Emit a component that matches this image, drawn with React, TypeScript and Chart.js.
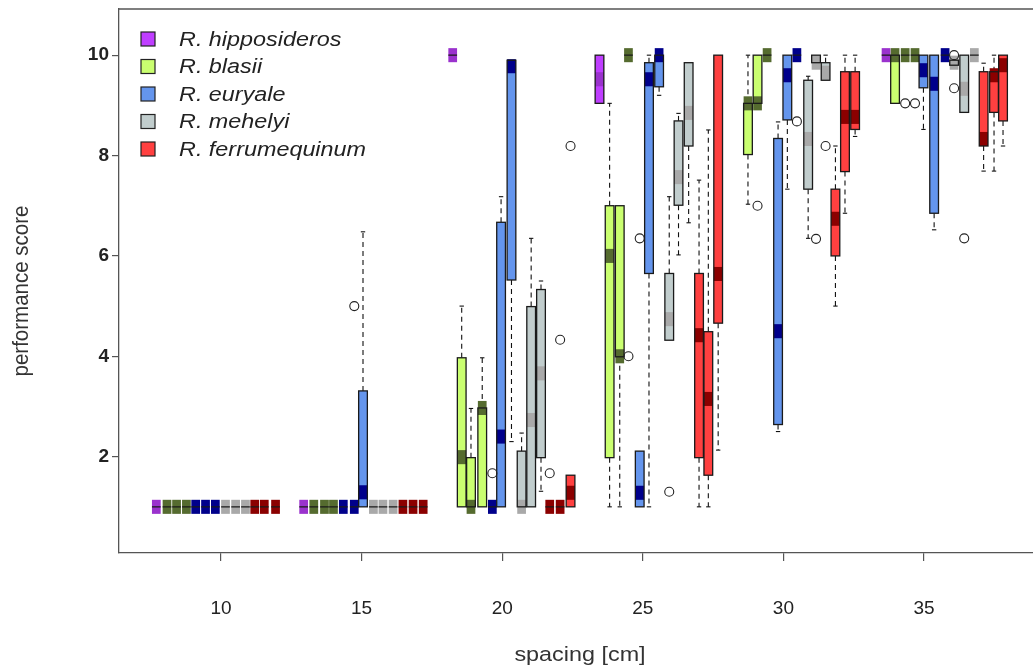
import React, { useEffect, useRef } from 'react';
import { Chart, registerables } from 'chart.js';

Chart.register(...registerables);

// Species shown in the legend, with box fill and median-band colours
const speciesNames = ['R. hipposideros', 'R. blasii', 'R. euryale', 'R. mehelyi', 'R. ferrumequinum'];
const boxFills = ['#bf3eff', '#caff70', '#6495ed', '#c1cdcd', '#ff4040'];
const medianFills = ['#9a32cd', '#556b2f', '#00008b', '#a9a9a9', '#8b0000'];

// Box statistics per species: [position, lower whisker, Q1, median, Q3, upper whisker]
const hipposiderosBoxes = [
  [7.70, 1, 1, 1, 1, 1],
  [12.94, 1, 1, 1, 1, 1],
  [18.24, 10, 10, 10, 10, 10],
  [23.46, 9.04, 9.04, 9.52, 10, 10],
  [33.65, 10, 10, 10, 10, 10],
];
const blasiiBoxes = [
  [8.08, 1, 1, 1, 1, 1], [8.42, 1, 1, 1, 1, 1], [8.77, 1, 1, 1, 1, 1],
  [13.30, 1, 1, 1, 1, 1], [13.68, 1, 1, 1, 1, 1], [14.00, 1, 1, 1, 1, 1],
  [18.56, 1, 1, 1.99, 3.97, 5.0], [18.89, 1, 1, 1.0, 1.98, 2.96], [19.29, 1, 1, 2.97, 2.97, 3.97],
  [23.82, 1, 1.98, 6.0, 7.0, 9.04], [24.18, 1, 3.99, 4.0, 7.0, 7.0], [24.49, 10, 10, 10, 10, 10],
  [28.74, 7.03, 8.02, 9.04, 9.04, 10], [29.08, 9.04, 9.04, 9.04, 10, 10], [29.42, 10, 10, 10, 10, 10],
  [33.97, 9.04, 9.04, 10, 10, 10], [34.33, 10, 10, 10, 10, 10], [34.68, 10, 10, 10, 10, 10],
];
const euryaleBoxes = [
  [9.10, 1, 1, 1, 1, 1], [9.45, 1, 1, 1, 1, 1], [9.80, 1, 1, 1, 1, 1],
  [14.35, 1, 1, 1, 1, 1], [14.74, 1, 1, 1, 1, 1], [15.05, 1, 1, 1.29, 3.31, 6.48],
  [19.65, 1, 1, 1, 1, 1], [19.96, 1, 1, 2.4, 6.67, 7.18], [20.33, 2.3, 5.52, 9.78, 9.9, 9.9],
  [24.89, 1, 1, 1.28, 2.11, 2.11], [25.22, 1, 5.65, 9.52, 9.85, 10], [25.58, 9.2, 9.37, 10, 10, 10],
  [29.81, 2.5, 2.64, 4.5, 8.34, 8.67], [30.14, 7.33, 8.71, 9.6, 10, 10], [30.48, 10, 10, 10, 10, 10],
  [34.98, 8.52, 9.35, 9.7, 10, 10], [35.36, 6.52, 6.85, 9.43, 10, 10], [35.75, 10, 10, 10, 10, 10],
];
const mehelyiBoxes = [
  [10.16, 1, 1, 1, 1, 1], [10.52, 1, 1, 1, 1, 1], [10.87, 1, 1, 1, 1, 1],
  [15.42, 1, 1, 1, 1, 1], [15.76, 1, 1, 1, 1, 1], [16.12, 1, 1, 1, 1, 1],
  [20.69, 1, 1, 1, 2.11, 2.47], [21.03, 1, 1, 2.73, 4.99, 6.35], [21.38, 1.31, 1.98, 3.66, 5.33, 5.5],
  [25.94, 4.32, 4.32, 4.74, 5.65, 7.18], [26.27, 6.02, 7.01, 7.57, 8.69, 8.84], [26.63, 6.66, 8.19, 8.85, 9.85, 9.85],
  [30.88, 6.35, 7.33, 8.33, 9.5, 9.58], [31.16, 9.85, 9.85, 9.85, 10, 10], [31.50, 9.5, 9.5, 9.65, 9.85, 10],
  [36.07, 9.8, 9.8, 9.85, 9.9, 9.9], [36.43, 8.86, 8.86, 9.33, 10, 10], [36.79, 10, 10, 10, 10, 10],
];
const ferrumequinumBoxes = [
  [11.20, 1, 1, 1, 1, 1], [11.54, 1, 1, 1, 1, 1], [11.94, 1, 1, 1, 1, 1],
  [16.47, 1, 1, 1, 1, 1], [16.83, 1, 1, 1, 1, 1], [17.19, 1, 1, 1, 1, 1],
  [21.69, 1, 1, 1, 1, 1], [22.06, 1, 1, 1, 1, 1], [22.43, 1, 1, 1.28, 1.63, 1.63],
  [27.00, 1, 1.98, 4.42, 5.65, 7.51], [27.33, 1, 1.63, 3.15, 4.49, 8.51], [27.68, 2.13, 4.66, 5.64, 10, 10],
  [31.85, 5.0, 6.0, 6.74, 7.33, 8.19], [32.19, 6.85, 7.68, 8.77, 9.67, 10], [32.55, 8.38, 8.52, 8.77, 9.67, 10],
  [37.12, 7.69, 8.19, 8.33, 9.67, 9.84], [37.49, 7.69, 8.86, 9.6, 9.67, 10], [37.81, 8.19, 8.69, 9.8, 10, 10],
];

// Outlying scores: [position, score]
const blasiiOutliers = [[24.49, 4.0], [29.08, 7.0], [34.33, 9.04], [34.68, 9.04]];
const euryaleOutliers = [[14.74, 5.0], [19.65, 1.67], [24.89, 6.35], [30.48, 8.68]];
const mehelyiOutliers = [[25.94, 1.3], [31.16, 6.34], [31.50, 8.19], [36.07, 10.0], [36.07, 9.34], [36.43, 6.35]];
const ferrumequinumOutliers = [[21.69, 1.67], [22.06, 4.33], [22.43, 8.19]];

// Axis ticks and titles
const spacingTicks = [10, 15, 20, 25, 30, 35];
const scoreTicks = [2, 4, 6, 8, 10];
const xTitle = 'spacing [cm]';
const yTitle = 'performance score';

const allBoxes = [hipposiderosBoxes, blasiiBoxes, euryaleBoxes, mehelyiBoxes, ferrumequinumBoxes];
const allOutliers = [blasiiOutliers, euryaleOutliers, mehelyiOutliers, ferrumequinumOutliers];

const BOX_HALF = 0.155; // half box width, axis units
const BAND_HALF = 0.14; // half height of the median band, score units
const FONT = '"Liberation Sans", Arial, sans-serif';

const boxPlugin = {
  id: 'boxes',
  beforeDatasetsDraw(chart: any) {
    const { ctx, scales } = chart;
    const xs = scales.x;
    const ys = scales.y;
    ctx.save();
    allBoxes.forEach((boxes, si) => {
      boxes.forEach(([bx, lo, q1, med, q3, hi]) => {
        const cx = xs.getPixelForValue(bx);
        const hw = xs.getPixelForValue(bx + BOX_HALF) - cx;
        const yLo = ys.getPixelForValue(lo);
        const yQ1 = ys.getPixelForValue(q1);
        const yQ3 = ys.getPixelForValue(q3);
        const yHi = ys.getPixelForValue(hi);
        // whiskers with staples
        ctx.strokeStyle = '#111';
        ctx.lineWidth = 1.1;
        const whisker = (from: number, to: number) => {
          ctx.setLineDash([5, 4]);
          ctx.beginPath();
          ctx.moveTo(cx, from);
          ctx.lineTo(cx, to);
          ctx.stroke();
          ctx.setLineDash([]);
          ctx.beginPath();
          ctx.moveTo(cx - hw * 0.5, to);
          ctx.lineTo(cx + hw * 0.5, to);
          ctx.stroke();
        };
        if (hi > q3) whisker(yQ3, yHi);
        if (lo < q1) whisker(yQ1, yLo);
        // box body
        ctx.fillStyle = boxFills[si];
        ctx.fillRect(cx - hw, yQ3, hw * 2, yQ1 - yQ3);
        // median band
        const yb1 = ys.getPixelForValue(med + BAND_HALF);
        const yb2 = ys.getPixelForValue(med - BAND_HALF);
        ctx.fillStyle = medianFills[si];
        ctx.fillRect(cx - hw, yb1, hw * 2, yb2 - yb1);
        // box outline
        ctx.strokeStyle = '#1a1a1a';
        ctx.lineWidth = 1.3;
        ctx.strokeRect(cx - hw, yQ3, hw * 2, yQ1 - yQ3);
      });
    });
    ctx.restore();
  },
  afterDraw(chart: any) {
    const { ctx, chartArea } = chart;
    ctx.save();
    // top edge of the plot frame
    ctx.strokeStyle = '#555';
    ctx.lineWidth = 1.3;
    ctx.beginPath();
    ctx.moveTo(chartArea.left, chartArea.top);
    ctx.lineTo(chartArea.right, chartArea.top);
    ctx.stroke();

    // axis titles
    ctx.fillStyle = '#333';
    ctx.textAlign = 'center';
    ctx.textBaseline = 'middle';
    ctx.save();
    ctx.translate(580, 655);
    ctx.scale(1.14, 1);
    ctx.font = `20.5px ${FONT}`;
    ctx.fillText(xTitle, 0, 0);
    ctx.restore();
    ctx.save();
    ctx.translate(22, 291);
    ctx.rotate(-Math.PI / 2);
    ctx.scale(1, 1.1);
    ctx.font = `20.5px ${FONT}`;
    ctx.fillText(yTitle, 0, 0);
    ctx.restore();

    // legend
    speciesNames.forEach((name, i) => {
      const cy = 39 + i * 27.5;
      ctx.fillStyle = boxFills[i];
      ctx.fillRect(141, cy - 7, 14, 14);
      ctx.strokeStyle = '#222';
      ctx.lineWidth = 1.2;
      ctx.strokeRect(141, cy - 7, 14, 14);
      ctx.save();
      ctx.translate(179, cy);
      ctx.scale(1.14, 1);
      ctx.font = `italic 20.5px ${FONT}`;
      ctx.fillStyle = '#222';
      ctx.textBaseline = 'middle';
      ctx.textAlign = 'left';
      ctx.fillText(name, 0, 1);
      ctx.restore();
    });
    ctx.restore();
  },
};

export default function App() {
  const canvasRef = useRef<HTMLCanvasElement>(null);

  useEffect(() => {
    const canvas = canvasRef.current;
    if (!canvas) return;
    const chart = new Chart(canvas, {
      type: 'scatter',
      data: {
        datasets: allOutliers.map((pts) => ({
          data: pts.map(([x, y]) => ({ x, y })),
          pointStyle: 'circle',
          pointRadius: 4.5,
          pointBorderWidth: 1.1,
          borderColor: '#222',
          backgroundColor: 'rgba(255,255,255,0)',
          showLine: false,
        })),
      },
      options: {
        animation: false,
        responsive: false,
        devicePixelRatio: 1,
        layout: { autoPadding: false, padding: { top: 9, right: 0, left: 0, bottom: 0 } },
        plugins: { legend: { display: false }, tooltip: { enabled: false } },
        scales: {
          x: {
            type: 'linear',
            position: 'bottom',
            min: 6.373,
            max: 38.876,
            afterBuildTicks: (scale: any) => {
              scale.ticks = spacingTicks.map((v) => ({ value: v }));
            },
            afterFit: (scale: any) => {
              scale.height = 113;
              scale.paddingLeft = 0;
              scale.paddingRight = 0;
            },
            grid: { display: true, drawOnChartArea: false, drawTicks: true, tickLength: 8, color: '#555', lineWidth: 1.2 },
            border: { display: true, color: '#555', width: 1.3 },
            ticks: {
              padding: 36,
              color: '#222',
              font: { family: FONT, size: 19 },
              maxRotation: 0,
              callback: (v: any) => String(v),
            },
            title: { display: false },
          },
          y: {
            type: 'linear',
            position: 'left',
            min: 0.08,
            max: 10.92,
            afterBuildTicks: (scale: any) => {
              scale.ticks = scoreTicks.map((v) => ({ value: v }));
            },
            afterFit: (scale: any) => {
              scale.width = 119;
              scale.paddingTop = 0;
              scale.paddingBottom = 0;
            },
            grid: { display: true, drawOnChartArea: false, drawTicks: true, tickLength: 7, color: '#555', lineWidth: 1.2 },
            border: { display: true, color: '#555', width: 1.3 },
            ticks: {
              padding: 3,
              color: '#222',
              font: { family: FONT, size: 19, weight: 'bold' },
              callback: (v: any) => String(v),
            },
            title: { display: false },
          },
        },
      },
      plugins: [boxPlugin],
    } as any);
    return () => chart.destroy();
  }, []);

  return (
    <div style={{ position: 'fixed', left: 0, top: 0, width: 1033, height: 666, background: '#fff' }}>
      <canvas ref={canvasRef} width={1033} height={666} />
    </div>
  );
}
